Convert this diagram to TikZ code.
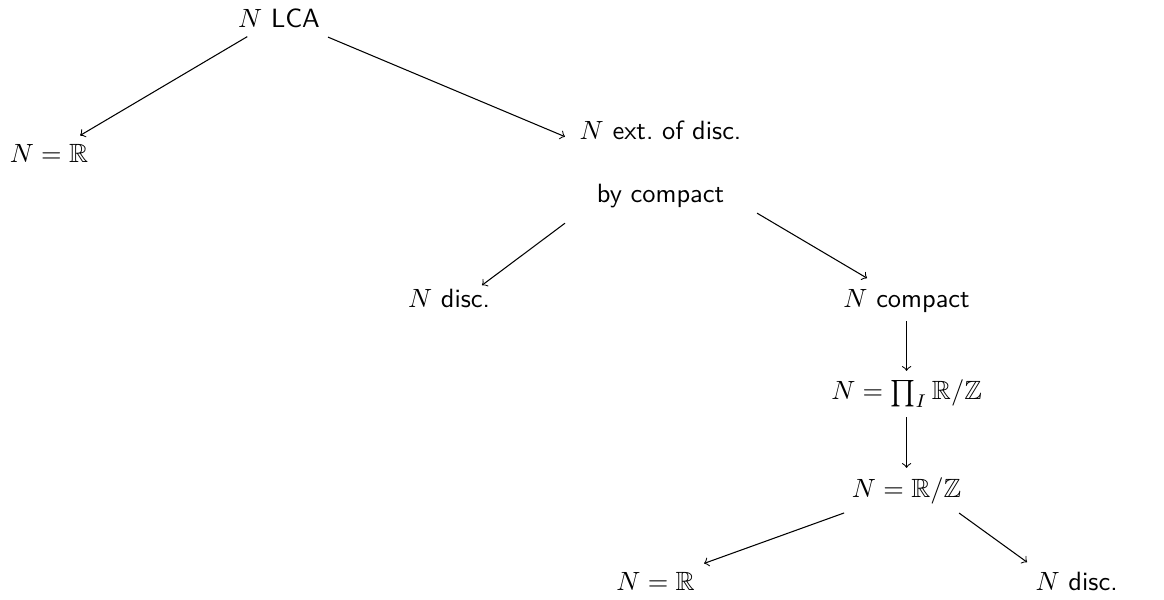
\documentclass[tikz,border=0pt]{standalone}
\usepackage{amsmath}
\usepackage{amssymb}
\usepackage{tikz}
\usetikzlibrary{positioning}
\tikzset{
	tnode/.style={font=\sffamily, anchor=base},
	sig/.style  ={->},
}
\begin{document}
\begin{tikzpicture}
			\useasboundingbox (0,0) rectangle (15.499,-7.976);
			\node[tnode] (lca) at (3.715,-0.360) {$N$ LCA};
			\node[below left=1.810cm and 3.063cm of lca.base, tnode] (r1) {$N=\mathbb{R}$};
			\node[below right=1.491cm and 5.080cm of lca.base, tnode] (ext) {$N$ ext.\ of disc.};
			\node[below=0.839cm of ext.base, tnode] (byc) {by compact};
			\node[below left=1.398cm and 2.816cm of byc.base, tnode] (disc1) {$N$ disc.};
			\node[below right=1.398cm and 3.276cm of byc.base, tnode] (comp) {$N$ compact};
			\node[below=1.238cm of comp.base, tnode] (prod) {$N=\prod_I\mathbb{R}/\mathbb{Z}$};
			\node[below=1.292cm of prod.base, tnode] (rz) {$N=\mathbb{R}/\mathbb{Z}$};
			\node[below left=1.238cm and 3.342cm of rz.base, tnode] (r2) {$N=\mathbb{R}$};
			\node[below right=1.238cm and 2.264cm of rz.base, tnode] (disc2) {$N$ disc.};
			% edges
			\draw[sig] (lca) -- (r1);
			\draw[sig] ([shift={(0.652,-0.256)}]lca.center) -- ([shift={(-1.272,-0.091)}]ext.center);
			\draw[sig] ([shift={(-1.272,-0.368)}]byc.center) -- ([shift={(0.439,0.170)}]disc1.center);
			\draw[sig] ([shift={(1.285,-0.234)}]byc.center) -- ([shift={(-0.526,0.298)}]comp.center);
			\draw[sig] (comp) -- (prod);
			\draw[sig] (prod) -- (rz);
			\draw[sig] (rz) -- (r2);
			\draw[sig] ([shift={(0.699,-0.301)}]rz.center) -- ([shift={(-0.659,0.250)}]disc2.center);
		\end{tikzpicture}
\end{document}
